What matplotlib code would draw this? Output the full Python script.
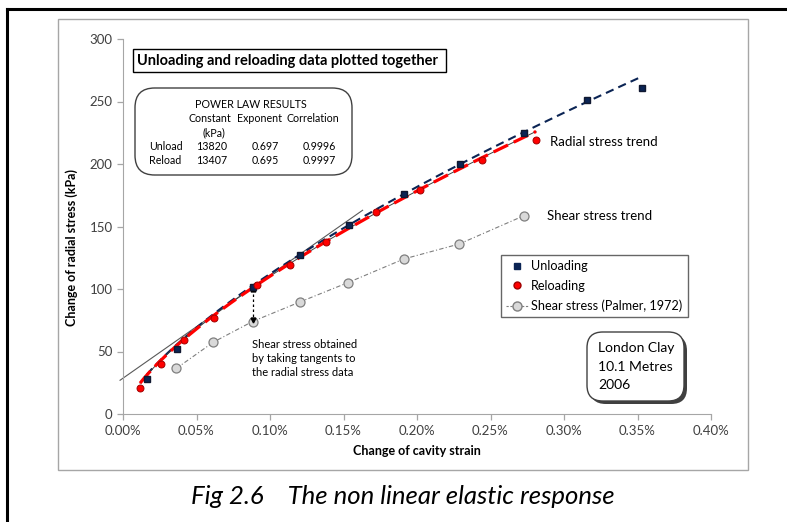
"""
Unloading / reloading radial stress against cavity strain
"""

import matplotlib
matplotlib.use("Agg")
import numpy as np
import matplotlib.pyplot as plt
from matplotlib.lines import Line2D
from matplotlib.patches import Rectangle, FancyBboxPatch
from matplotlib.ticker import PercentFormatter, MultipleLocator

plt.rcParams['font.family'] = ['Lato', 'DejaVu Sans']

# data (strain as fraction, stress in kPa)
unload_strain = [0.000161, 0.000366, 0.000881, 0.001206, 0.001535,
                 0.001914, 0.002291, 0.002727, 0.003159, 0.003533]
unload_stress = [28, 52, 102, 127, 151, 176, 200, 225, 251, 261]

reload_strain = [0.000116, 0.000259, 0.000418, 0.000622, 0.000911, 0.001138,
                 0.001383, 0.001724, 0.002023, 0.002439, 0.002809]
reload_stress = [21, 40, 59, 77, 103, 119, 138, 162, 179, 203, 219]

shear_strain = [0.000363, 0.000615, 0.000881, 0.001201, 0.001528,
                0.001910, 0.002287, 0.002725]
shear_stress = [36.5, 57.5, 74, 89.5, 105, 124, 136, 158.5]

# power law results (y = C * strain ^ n)
fit_names = ["Unload", "Reload"]
fit_const = [13820, 13407]
fit_expo = [0.697, 0.695]
fit_corr = [0.9996, 0.9997]
unload_fit_range = [0.000161, 0.00352]
reload_fit_range = [0.000116, 0.00281]

# tangent drawn at the 0.088% point
tangent_strain = [-0.00002, 0.00163]
tangent_stress = [27, 163]
tangent_at = 0.000881
tangent_drop = [100, 74]

legend_labels = ["Unloading", "Reloading", "Shear stress (Palmer, 1972)"]

W, H = 787, 522
NAVY = "#0b2454"
RED = "#ff0000"


def fx(x):
    return x / W


def fy(y):
    return 1 - y / H


fig = plt.figure(figsize=(W / 100, H / 100), dpi=100)
ax = fig.add_axes([fx(123), fy(414), fx(711) - fx(123), fy(39) - fy(414)])

# outer frame and chart area border
fig.add_artist(Line2D([fx(7), fx(7)], [fy(9), 0], color="black", lw=2.2))
fig.add_artist(Line2D([fx(7), 1], [fy(9), fy(9)], color="black", lw=2.2))
fig.add_artist(Rectangle((fx(58), fy(470)), fx(748) - fx(58), fy(19) - fy(470),
                         transform=fig.transFigure, fill=False,
                         edgecolor="#a6a6a6", lw=1))

# trend lines
xs = np.linspace(unload_fit_range[0], unload_fit_range[1], 200)
ax.plot(xs, fit_const[0] * xs ** fit_expo[0], color=NAVY, lw=1.5,
        ls=(0, (4, 2.5)), zorder=3)
xr = np.linspace(reload_fit_range[0], reload_fit_range[1], 200)
ax.plot(xr, fit_const[1] * xr ** fit_expo[1], color="#404040", lw=0.7, zorder=3)
ax.plot(xr, fit_const[1] * xr ** fit_expo[1], color=RED, lw=2.3,
        ls=(0, (5, 2)), zorder=4)

# tangent and the drop down to the shear stress point
ax.plot(tangent_strain, tangent_stress, color="#595959", lw=0.8,
        clip_on=False, zorder=2)
ax.plot([tangent_at, tangent_at], tangent_drop, color="black", lw=0.9,
        ls=(0, (2, 2)), zorder=5)
ax.plot([tangent_at], [tangent_drop[0]], marker="^", ms=3.5, color="black", zorder=6)
ax.plot([tangent_at], [tangent_drop[1] + 1.5], marker="v", ms=3.5, color="black", zorder=6)

# data
ax.plot(shear_strain, shear_stress, color="#7f7f7f", lw=0.8, ls=(0, (4, 2, 1, 2)),
        marker="o", ms=6.5, mfc="#d9d9d9", mec="#7f7f7f", mew=0.9, zorder=4)
ax.plot(unload_strain, unload_stress, ls="none", marker="s", ms=4.8,
        color=NAVY, mec="#101830", zorder=6)
ax.plot(reload_strain, reload_stress, ls="none", marker="o", ms=5,
        color=RED, mec="#a00000", mew=0.7, zorder=7)

# axes styling
ax.set_xlim(0, 0.004)
ax.set_ylim(0, 300)
ax.xaxis.set_major_locator(MultipleLocator(0.0005))
ax.xaxis.set_major_formatter(PercentFormatter(xmax=1, decimals=2))
ax.yaxis.set_major_locator(MultipleLocator(50))
for side in ["top", "right"]:
    ax.spines[side].set_visible(False)
for side in ["left", "bottom"]:
    ax.spines[side].set_color("#a6a6a6")
ax.tick_params(colors="#a6a6a6", labelcolor="#404040", labelsize=9.5,
               length=4, width=0.9)
ax.tick_params(axis="x", pad=4)

fig.text(fx(72), fy(248), "Change of radial stress (kPa)", rotation=90,
         ha="center", va="center", fontsize=9, fontweight="bold")
fig.text(fx(417), fy(451), "Change of cavity strain", ha="center",
         va="center", fontsize=9, fontweight="bold")
fig.text(fx(403), fy(497), "Fig 2.6    The non linear elastic response",
         ha="center", va="center", fontsize=18.5, fontstyle="italic")

# legend
handles = [
    Line2D([], [], ls="none", marker="s", ms=4, color=NAVY),
    Line2D([], [], ls="none", marker="o", ms=5, color=RED, mec="#a00000"),
    Line2D([], [], color="#7f7f7f", lw=0.8, ls=(0, (2, 1.5)), marker="o",
           ms=6.5, mfc="#d9d9d9", mec="#7f7f7f"),
]
leg = ax.legend(handles, legend_labels, loc="upper left",
                bbox_to_anchor=((501 - 123) / 588, (414 - 255) / 375),
                frameon=True, fancybox=False, fontsize=9.1, handlelength=1.8,
                handletextpad=0.2, labelspacing=0.62, borderpad=0.4,
                borderaxespad=0)
leg.get_frame().set_edgecolor("#404040")
leg.get_frame().set_linewidth(1)

# title box
fig.text(fx(137), fy(61), "Unloading and reloading data plotted together",
         ha="left", va="center", fontsize=10.5, fontweight="bold")
fig.add_artist(Rectangle((fx(133), fy(72)), fx(446) - fx(133), fy(49) - fy(72),
                         transform=fig.transFigure, fill=False,
                         edgecolor="black", lw=1))

# power law box
fig.add_artist(FancyBboxPatch((fx(135), fy(175)), fx(352) - fx(135), fy(88) - fy(175),
                              boxstyle="round,pad=0,rounding_size=0.025",
                              transform=fig.transFigure, fill=True, fc="white",
                              edgecolor="#404040", lw=1, mutation_aspect=W / H))
fs = 7.7
fig.text(fx(251), fy(105), "POWER LAW RESULTS", ha="center", va="center", fontsize=fs)
fig.text(fx(210), fy(119), "Constant", ha="center", va="center", fontsize=fs)
fig.text(fx(260), fy(119), "Exponent", ha="center", va="center", fontsize=fs)
fig.text(fx(313), fy(119), "Correlation", ha="center", va="center", fontsize=fs)
fig.text(fx(214), fy(133), "(kPa)", ha="center", va="center", fontsize=fs)
for i, yy in enumerate([147, 161]):
    fig.text(fx(149), fy(yy), fit_names[i], ha="left", va="center", fontsize=fs)
    fig.text(fx(212), fy(yy), str(fit_const[i]), ha="center", va="center", fontsize=fs)
    fig.text(fx(265), fy(yy), "%.3f" % fit_expo[i], ha="center", va="center", fontsize=fs)
    fig.text(fx(319), fy(yy), "%.4f" % fit_corr[i], ha="center", va="center", fontsize=fs)

# London Clay box with shadow
fig.add_artist(FancyBboxPatch((fx(590), fy(404)), fx(684) - fx(587), fy(332) - fy(401),
                              boxstyle="round,pad=0,rounding_size=0.02",
                              transform=fig.transFigure, fc="#404040",
                              edgecolor="none", mutation_aspect=W / H))
fig.add_artist(FancyBboxPatch((fx(587), fy(401)), fx(684) - fx(587), fy(332) - fy(401),
                              boxstyle="round,pad=0,rounding_size=0.02",
                              transform=fig.transFigure, fc="white",
                              edgecolor="#404040", lw=1, mutation_aspect=W / H))
for txt, yy in zip(["London Clay", "10.1 Metres", "2006"], [348, 367, 385]):
    fig.text(fx(598), fy(yy), txt, ha="left", va="center", fontsize=10)

# annotations
fig.text(fx(550), fy(142), "Radial stress trend", ha="left", va="center", fontsize=9.5)
fig.text(fx(547), fy(216), "Shear stress trend", ha="left", va="center", fontsize=9.5)
for txt, yy in zip(["Shear stress obtained", "by taking tangents to",
                    "the radial stress data"], [344, 358, 372]):
    fig.text(fx(252), fy(yy), txt, ha="left", va="center", fontsize=8)

fig.savefig("out.png", dpi=100)
